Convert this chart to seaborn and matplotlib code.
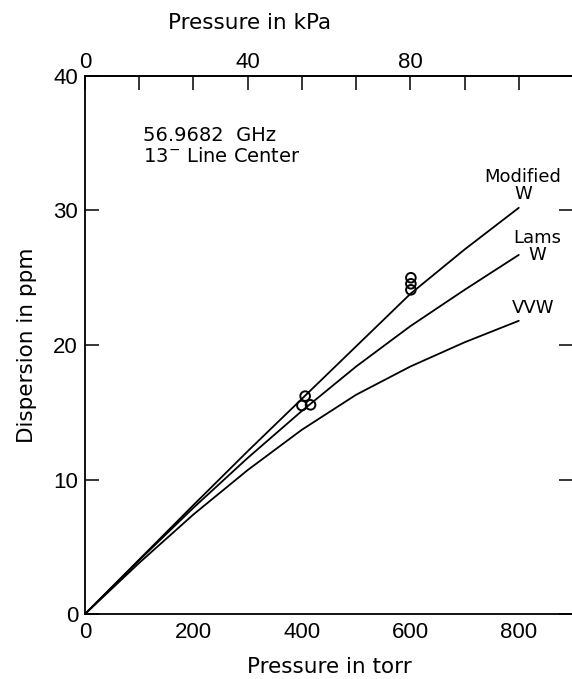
import numpy as np
import pandas as pd
import matplotlib
matplotlib.use("Agg")
import matplotlib.pyplot as plt
import seaborn as sns

# Data
pressure_torr = [0, 100, 200, 300, 400, 500, 600, 700, 800]
modified_w = [0, 4.05, 8.1, 12.1, 16.0, 19.9, 23.8, 27.1, 30.2]
lams_w = [0, 4.0, 7.9, 11.6, 15.1, 18.4, 21.4, 24.1, 26.7]
vvw = [0, 3.8, 7.4, 10.7, 13.7, 16.3, 18.4, 20.2, 21.8]

meas_torr = [400, 406, 416, 601, 601, 601]
meas_ppm = [15.5, 16.2, 15.55, 24.1, 24.55, 25.0]

x_ticks = [0, 200, 400, 600, 800]
y_ticks = [0, 10, 20, 30, 40]
top_tick_pos = [0, 300, 600]
top_tick_labels = ["0", "40", "80"]

sns.set_theme(style="white")
plt.rcParams['font.family'] = ['DejaVu Sans']
plt.rcParams['text.color'] = 'black'
plt.rcParams['axes.labelcolor'] = 'black'
TICKFONT = ['Liberation Sans', 'DejaVu Sans']
TICKSIZE = 16

fig = plt.figure(figsize=(5.72, 6.79), dpi=100)
ax = fig.add_axes([85/572, 65/679, 488/572, 538/679])

df = pd.DataFrame({
    "torr": pressure_torr * 3,
    "ppm": modified_w + lams_w + vvw,
    "model": ["Modified W"] * 9 + ["Lams W"] * 9 + ["VVW"] * 9,
})
sns.lineplot(data=df, x="torr", y="ppm", units="model", estimator=None,
             color="black", linewidth=1.3, ax=ax, legend=False)

pts = pd.DataFrame({"torr": meas_torr, "ppm": meas_ppm})
sns.scatterplot(data=pts, x="torr", y="ppm", ax=ax, s=48, marker="o",
                facecolor="none", edgecolor="black", linewidth=1.4, zorder=5)

ax.set_xlim(0, 900)
ax.set_ylim(0, 40)
ax.set_xticks(np.arange(0, 900, 100))
ax.set_xticklabels([str(v) if v in x_ticks else "" for v in range(0, 900, 100)],
                   family=TICKFONT, fontsize=TICKSIZE)
ax.set_yticks(y_ticks)
ax.set_yticklabels([str(v) for v in y_ticks], family=TICKFONT, fontsize=TICKSIZE)
ax.tick_params(axis="both", direction="in", length=10, width=1.1, color="black",
               labelcolor="black")
ax.tick_params(axis="x", pad=6)
ax.tick_params(axis="y", right=True, left=True, pad=5)
for sp in ax.spines.values():
    sp.set_color("black")
    sp.set_linewidth(1.3)

ax.set_xlabel("Pressure in torr", fontsize=15.5, labelpad=10, color="black")
ax.set_ylabel("Dispersion in ppm", fontsize=15.5, labelpad=12, color="black")

top = ax.secondary_xaxis("top")
top.set_xticks(np.arange(0, 900, 100))
top.set_xticklabels([top_tick_labels[top_tick_pos.index(v)] if v in top_tick_pos else ""
                     for v in range(0, 900, 100)], family=TICKFONT, fontsize=TICKSIZE)
top.tick_params(direction="in", length=10, width=1.1, pad=2, color="black",
                labelcolor="black")
top.spines["top"].set_linewidth(1.3)
ax.text(0.338, 1 + 53/538, "Pressure in kPa", transform=ax.transAxes,
        fontsize=15.5, ha="center", va="center", color="black")

ax.text(107, 35.55, "56.9682  GHz", fontsize=14, ha="left", va="center", color="black")
ax.text(107, 34.0, r"13$^{-}$ Line Center", fontsize=14, ha="left", va="center",
        color="black")

ax.text(808, 31.85, "Modified\nW", fontsize=13, ha="center", va="center",
        linespacing=0.95, multialignment="center", color="black")
ax.text(834, 27.3, "Lams\nW", fontsize=13, ha="center", va="center",
        linespacing=0.95, multialignment="center", color="black")
ax.text(827, 22.75, "VVW", fontsize=13, ha="center", va="center", color="black")

fig.savefig("out.png", dpi=100)
